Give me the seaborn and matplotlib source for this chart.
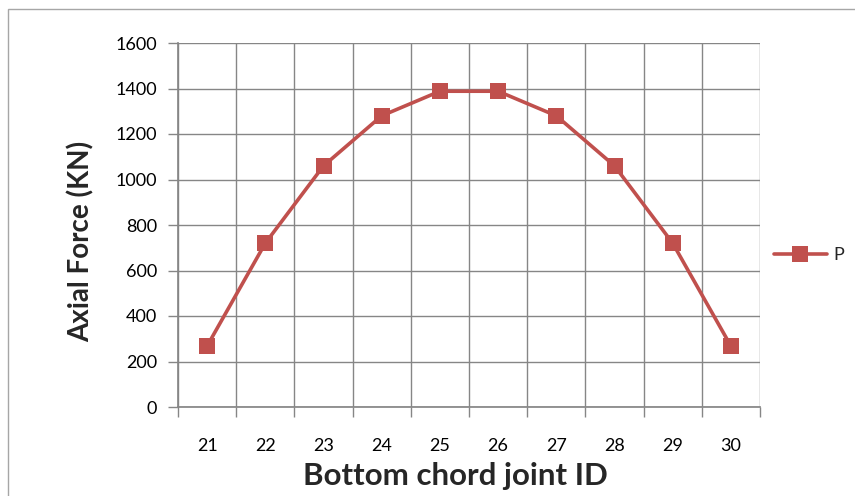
import matplotlib
matplotlib.use("Agg")
import matplotlib.pyplot as plt
import seaborn as sns
import pandas as pd
import numpy as np
from matplotlib.patches import Rectangle

joints = ["21", "22", "23", "24", "25", "26", "27", "28", "29", "30"]
axial_force = [268, 720, 1060, 1280, 1388, 1388, 1280, 1060, 720, 268]
series_name = "P"
y_ticks = [0, 200, 400, 600, 800, 1000, 1200, 1400, 1600]

sns.set_theme(style="white")
plt.rcParams["font.family"] = ["Lato", "DejaVu Sans"]

W, H = 855, 496
L, R, T, B = 178, 760, 43, 407
fig = plt.figure(figsize=(W / 100, H / 100), dpi=100)
ax = fig.add_axes([L / W, 1 - B / H, (R - L) / W, (B - T) / H])

df = pd.DataFrame({"joint": pd.Categorical(joints, categories=joints), "force": axial_force, "series": series_name})
red = "#C0504D"
sns.lineplot(data=df, x="joint", y="force", hue="series", palette=[red], marker="s",
             markersize=12, linewidth=2.6, markeredgewidth=0, ax=ax, sort=False)

grid_c = "#868686"
tick_fs = 13
ax.set_xlim(-0.5, len(joints) - 0.5)
ax.set_ylim(0, 1600)
ax.set_yticks(y_ticks)
ax.set_yticklabels([str(v) for v in y_ticks], fontsize=tick_fs, color="black")
ax.set_xticks(range(len(joints)))
ax.set_xticklabels(joints, fontsize=tick_fs, color="black")
ax.set_xticks(np.arange(-0.5, len(joints), 1.0), minor=True)
ax.tick_params(axis="x", which="major", length=0, pad=22)
ax.tick_params(axis="x", which="minor", length=7, width=1, color=grid_c, direction="out", bottom=True)
ax.tick_params(axis="y", which="major", length=7, width=1, color=grid_c, direction="out", left=True, pad=8)

ax.grid(False)
for v in y_ticks:
    ax.axhline(v, color=grid_c, linewidth=1, zorder=0)
for v in np.arange(-0.5, len(joints), 1.0):
    ax.axvline(v, color=grid_c, linewidth=1, zorder=0)
for s in ax.spines.values():
    s.set_visible(False)
ax.spines["left"].set_visible(True)
ax.spines["left"].set_color(grid_c)
ax.spines["bottom"].set_visible(True)
ax.spines["bottom"].set_color(grid_c)

ax.set_xlabel("Bottom chord joint ID", fontsize=22.5, fontweight="bold")
ax.set_ylabel("Axial Force (KN)", fontsize=20, fontweight="bold")
ax.xaxis.label.set_va("center")
ax.yaxis.label.set_va("center")
ax.xaxis.set_label_coords((455 - L) / (R - L), -(476 - B) / (B - T))
ax.yaxis.set_label_coords((81 - L) / (R - L), 1 - (241 - T) / (B - T))

leg = ax.legend(loc="center left", bbox_to_anchor=(1.012, 1 - (255 - T) / (B - T)),
                frameon=False, fontsize=tick_fs, handlelength=2.9, handletextpad=0.35, borderaxespad=0)
for line in leg.get_lines():
    line.set_markersize(12)
    line.set_linewidth(2.6)

fig.patches.append(Rectangle((8 / W, -0.1), 1.2, 1 - 9 / H + 0.1, transform=fig.transFigure,
                             fill=False, edgecolor="#A6A6A6", linewidth=1))

fig.savefig("out.png", dpi=100)
